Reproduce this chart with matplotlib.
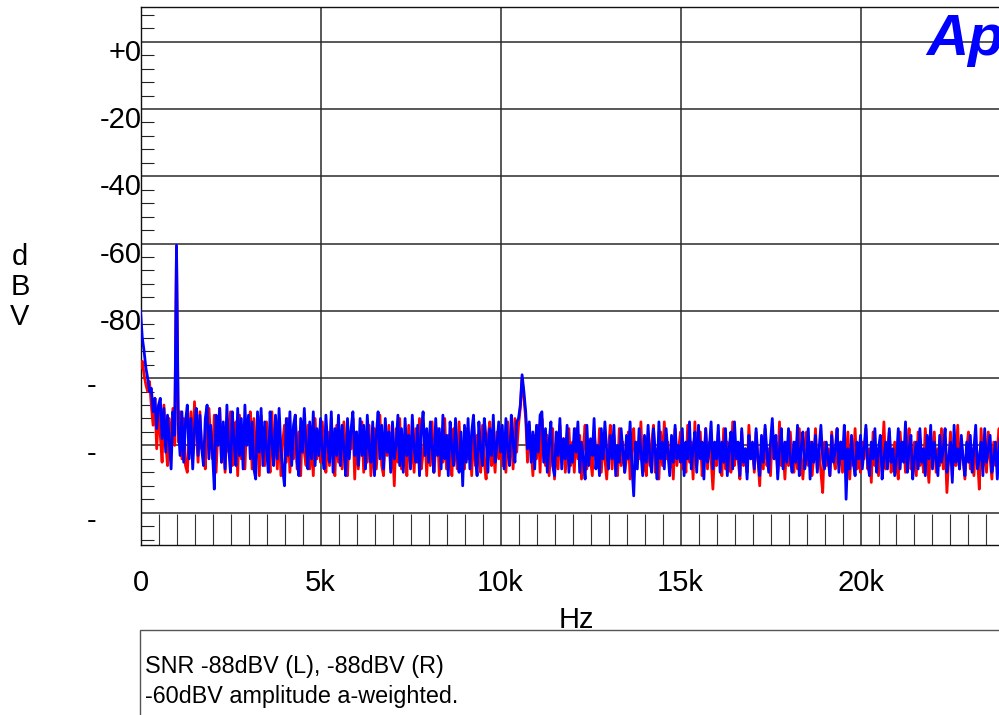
import numpy as np
import matplotlib
matplotlib.use("Agg")
import matplotlib.pyplot as plt
from matplotlib.ticker import MultipleLocator, FixedLocator
from matplotlib.patches import Rectangle

plt.rcParams['font.family'] = ['Liberation Sans', 'DejaVu Sans']

# FFT bins every 50 Hz, 0 .. 24 kHz
freq_step = 50

# left channel (red), dBV, one row per kHz
left_dbv = [
    -97, -95, -99, -102, -104, -101, -108, -114, -106, -121, -110, -117, -125, -108, -119, -126, -112, -122, -109, -120,
    -61, -119, -110, -124, -112, -126, -128, -118, -110, -123, -107, -116, -125, -110, -121, -119, -127, -112, -109, -118,
    -124, -111, -128, -115, -109, -125, -117, -128, -112, -122, -110, -126, -119, -113, -129, -111, -124, -116, -127, -113,
    -118, -110, -127, -112, -124, -115, -129, -111, -122, -126, -113, -120, -128, -110, -124, -116, -127, -112, -129, -119,
    -114, -125, -112, -128, -118, -124, -111, -127, -116, -129, -113, -122, -126, -114, -127, -119, -129, -112, -124, -116,
    -125, -113, -122, -128, -116, -126, -112, -124, -129, -114, -125, -118, -127, -113, -123, -129, -116, -121, -112, -130,
    -116, -127, -120, -113, -128, -118, -125, -114, -129, -122, -115, -127, -119, -111, -126, -129, -117, -123, -114, -127,
    -120, -132, -115, -125, -112, -127, -118, -123, -129, -114, -126, -119, -128, -115, -125, -112, -127, -122, -116, -129,
    -117, -126, -113, -128, -121, -115, -129, -119, -125, -112, -127, -117, -124, -129, -115, -122, -127, -113, -126, -119,
    -127, -115, -124, -119, -129, -113, -126, -117, -122, -128, -114, -125, -130, -118, -113, -126, -121, -128, -116, -124,
    -115, -126, -119, -128, -113, -124, -117, -127, -112, -122, -114, -109, -100, -106, -112, -125, -114, -121, -129, -117,
    -124, -114, -128, -112, -120, -126, -117, -129, -121, -115, -130, -119, -127, -114, -124, -118, -128, -121, -115, -126,
    -119, -128, -115, -124, -117, -130, -121, -114, -127, -119, -124, -129, -116, -122, -126, -115, -128, -119, -124, -130,
    -121, -114, -127, -117, -124, -129, -115, -126, -119, -128, -124, -116, -130, -121, -115, -127, -119, -124, -113, -128,
    -124, -129, -117, -126, -119, -114, -128, -121, -130, -116, -126, -113, -124, -119, -127, -121, -130, -115, -126, -121,
    -116, -127, -121, -128, -114, -125, -119, -130, -113, -126, -121, -116, -129, -124, -115, -127, -119, -124, -133, -121,
    -126, -116, -124, -129, -115, -127, -119, -121, -128, -113, -126, -119, -124, -130, -116, -126, -121, -128, -114, -124,
    -121, -128, -116, -124, -132, -119, -127, -115, -126, -121, -129, -116, -124, -119, -128, -113, -126, -121, -130, -119,
    -126, -116, -124, -128, -119, -127, -115, -124, -130, -121, -116, -126, -119, -129, -124, -115, -127, -121, -128, -134,
    -119, -126, -121, -129, -116, -124, -127, -115, -126, -119, -128, -121, -124, -116, -130, -121, -126, -115, -127, -124,
    -128, -119, -124, -115, -127, -121, -131, -116, -126, -121, -129, -119, -124, -113, -127, -121, -116, -128, -124, -119,
    -126, -130, -116, -124, -119, -128, -121, -115, -127, -124, -119, -129, -116, -126, -121, -128, -115, -124, -131, -119,
    -124, -116, -128, -121, -126, -115, -127, -119, -134, -124, -116, -129, -121, -126, -114, -127, -119, -124, -130, -121,
    -116, -127, -121, -129, -119, -124, -133, -115, -126, -121, -128, -116, -124, -130, -119, -126, -121, -115, -128, -124,
    -121,
]

# right channel (blue), dBV
right_dbv = [
    -80, -88, -92, -97, -100, -104, -103, -110, -106, -115, -108, -106, -118, -109, -122, -111, -119, -127, -110, -117,
    -60.5, -114, -123, -110, -125, -113, -108, -124, -112, -127, -115, -109, -123, -111, -121, -126, -112, -108, -124, -114,
    -122, -133, -111, -120, -109, -125, -113, -127, -108, -121, -128, -110, -119, -126, -109, -123, -112, -127, -108, -120,
    -111, -124, -113, -127, -130, -110, -122, -109, -126, -113, -121, -128, -110, -119, -126, -111, -124, -109, -121, -127,
    -132, -112, -123, -110, -126, -114, -111, -125, -129, -112, -122, -109, -120, -127, -113, -124, -110, -126, -115, -123,
    -112, -122, -127, -111, -120, -125, -110, -128, -115, -123, -111, -126, -114, -121, -129, -112, -124, -115, -110, -123,
    -116, -126, -112, -123, -114, -127, -111, -121, -125, -113, -129, -117, -110, -124, -114, -127, -112, -122, -116, -128,
    -113, -124, -120, -111, -126, -115, -128, -112, -123, -117, -127, -111, -121, -125, -114, -129, -116, -110, -123, -115,
    -125, -113, -121, -128, -112, -123, -115, -127, -111, -124, -117, -129, -113, -121, -126, -112, -123, -128, -116, -132,
    -114, -125, -112, -127, -116, -111, -123, -129, -113, -121, -126, -112, -118, -128, -115, -123, -111, -125, -120, -113,
    -122, -114, -127, -112, -121, -126, -111, -119, -125, -113, -112, -108, -99, -104, -110, -121, -113, -125, -116, -127,
    -114, -122, -111, -110, -125, -115, -128, -119, -113, -126, -129, -116, -123, -112, -127, -118, -124, -114, -128, -120,
    -125, -115, -122, -113, -128, -119, -124, -130, -114, -126, -118, -123, -112, -127, -120, -129, -115, -124, -113, -122,
    -127, -117, -124, -114, -129, -120, -125, -115, -122, -128, -117, -124, -113, -126, -135, -119, -127, -115, -122, -129,
    -117, -125, -114, -124, -128, -115, -122, -130, -113, -124, -119, -127, -115, -122, -129, -117, -125, -114, -124, -120,
    -125, -115, -129, -119, -124, -113, -127, -121, -116, -128, -114, -124, -119, -130, -115, -125, -121, -113, -127, -119,
    -124, -114, -128, -119, -125, -115, -129, -121, -116, -127, -113, -124, -119, -129, -115, -125, -121, -130, -117, -124,
    -119, -127, -115, -124, -129, -117, -125, -114, -122, -128, -119, -112, -124, -117, -130, -121, -115, -127, -119, -125,
    -115, -124, -128, -119, -125, -114, -129, -121, -116, -127, -124, -115, -130, -119, -125, -117, -128, -121, -114, -124,
    -127, -119, -124, -129, -117, -125, -121, -115, -128, -119, -124, -114, -136, -121, -127, -117, -125, -129, -119, -124,
    -117, -127, -121, -114, -125, -129, -119, -124, -115, -128, -121, -117, -130, -124, -119, -127, -115, -125, -121, -129,
    -124, -115, -127, -119, -125, -113, -128, -121, -117, -130, -124, -119, -127, -115, -125, -121, -129, -117, -124, -114,
    -127, -119, -124, -129, -117, -125, -121, -115, -128, -124, -119, -131, -114, -125, -121, -127, -117, -124, -129, -119,
    -125, -117, -128, -121, -114, -127, -124, -119, -129, -115, -125, -121, -117, -128, -124, -119, -130, -121, -115, -127,
    -122,
]

assert len(left_dbv) == 481 and len(right_dbv) == 481

x_ticks = [0, 5000, 10000, 15000, 20000]
x_labels = ['0', '5k', '10k', '15k', '20k']
y_grid = [0, -20, -40, -60, -80, -100, -120, -140]
y_labels = ['+0', '-20', '-40', '-60', '-80', '-', '-', '-']
notes = ['SNR -88dBV (L), -88dBV (R)', '-60dBV amplitude a-weighted.']

freqs = np.arange(len(right_dbv)) * freq_step

W, H = 999, 715
fig = plt.figure(figsize=(W / 100, H / 100), dpi=100)
ax = fig.add_axes([140.5 / W, 1 - 545 / H, 864 / W, 538.3 / H])

ax.plot(freqs, left_dbv, color='#ff0000', lw=2.0, zorder=3)
ax.plot(freqs, right_dbv, color='#0000ff', lw=2.0, zorder=4)

ax.set_xlim(0, 24000)
ax.set_ylim(-149.6, 10.4)

ax.xaxis.set_major_locator(FixedLocator(x_ticks))
ax.set_xticklabels(x_labels)
ax.xaxis.set_minor_locator(MultipleLocator(500))
ax.yaxis.set_major_locator(FixedLocator(y_grid))
ax.yaxis.set_minor_locator(MultipleLocator(4))
ax.set_yticklabels([])

ax.tick_params(axis='x', which='major', length=0, pad=17, labelsize=21)
ax.tick_params(axis='x', which='minor', direction='in', length=22,
               width=0.8, color='#333333')
ax.tick_params(axis='y', which='major', length=0)
ax.tick_params(axis='y', which='minor', direction='in', length=9.5,
               width=0.8, color='#222222')

ax.grid(True, which='major', color='#2a2a2a', lw=1.1)
for s in ['top', 'bottom', 'left']:
    ax.spines[s].set_color('#111111')
    ax.spines[s].set_linewidth(1.0)
ax.spines['right'].set_visible(False)

# y labels, drawn a little below their grid lines
for v, s in zip(y_grid, y_labels):
    if s == '-':
        ax.annotate(s, xy=(0, v), xycoords=('axes fraction', 'data'),
                    xytext=(-39, -6), textcoords='offset points',
                    ha='left', va='center', fontsize=21)
    else:
        ax.annotate(s, xy=(0, v), xycoords=('axes fraction', 'data'),
                    xytext=(1, -8), textcoords='offset points',
                    ha='right', va='center', fontsize=21)

fig.text(20 / W, 1 - 287 / H, 'd\nB\nV', ha='center', va='center',
         fontsize=21, linespacing=1.08)
fig.text(576 / W, 1 - 620 / H, 'Hz', ha='center', va='center', fontsize=21)

# logo, cut by the right edge as in the original
fig.text(926 / W, 1 - 55 / H, 'Ap', ha='left', va='baseline', fontsize=42,
         fontweight='bold', fontstyle='italic', color='#0000ff')

fig.patches.append(Rectangle((140 / W, -0.05), 0.9, (715 - 630) / H + 0.05,
                             transform=fig.transFigure, fill=False,
                             edgecolor='#555555', lw=1.0))
fig.text(145 / W, 1 - 667 / H, notes[0], ha='left', va='center', fontsize=16.8)
fig.text(145 / W, 1 - 697 / H, notes[1], ha='left', va='center', fontsize=16.8)

fig.savefig('out.png', dpi=100)
